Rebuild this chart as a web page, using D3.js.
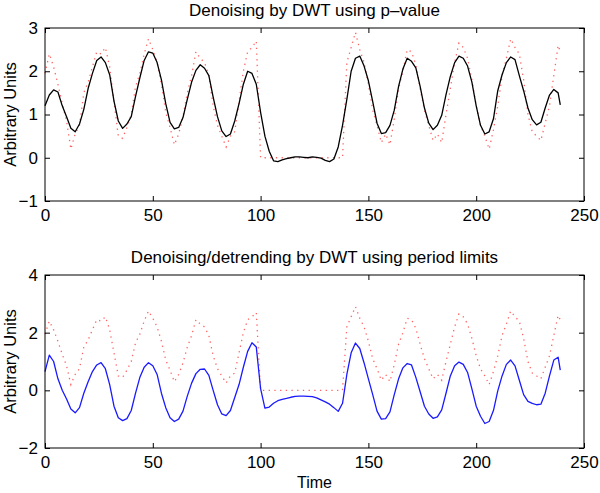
<!DOCTYPE html>
<html>
<head>
<meta charset="utf-8">
<script src="https://cdn.jsdelivr.net/npm/d3@7"></script>
<style>
  body { margin: 0; background: #fff; }
  svg text { font-family: "Liberation Sans", Arial, Helvetica, sans-serif; fill: #000; }
</style>
</head>
<body>
<div id="chart"></div>
<script>
// time axis (hours), sampled every 2 units
const time = [0, 2, 4, 6, 8, 10, 12, 14, 16, 18, 20, 22, 24, 26, 28, 30, 32, 34, 36, 38,
  40, 42, 44, 46, 48, 50, 52, 54, 56, 58, 60, 62, 64, 66, 68, 70, 72, 74, 76, 78,
  80, 82, 84, 86, 88, 90, 92, 94, 96, 98, 100, 102, 104, 106, 108, 110, 112, 114, 116, 118,
  120, 122, 124, 126, 128, 130, 132, 134, 136, 138, 140, 142, 144, 146, 148, 150, 152, 154, 156, 158,
  160, 162, 164, 166, 168, 170, 172, 174, 176, 178, 180, 182, 184, 186, 188, 190, 192, 194, 196, 198,
  200, 202, 204, 206, 208, 210, 212, 214, 216, 218, 220, 222, 224, 226, 228, 230, 232, 234, 236, 238, 239];

// raw signal (red dotted, same in both panels)
const raw = [1.95, 2.4, 2.1, 1.7, 1.25, 0.85, 0.2, 0.55, 0.75, 1.5, 1.75, 2.1, 2.45, 2.4, 2.55, 2.1, 1.3, 0.5, 0.45, 0.7,
  1.0, 1.65, 1.95, 2.4, 2.75, 2.5, 2.2, 1.7, 1.05, 0.7, 0.3, 0.55, 0.95, 1.5, 1.9, 2.45, 2.3, 2.2, 1.9, 1.2,
  0.75, 0.5, 0.25, 0.5, 0.6, 1.3, 2.0, 2.45, 2.55, 2.7, 0, 0, 0, 0, 0, 0, 0, 0, 0, 0,
  0, 0, 0, 0, 0, 0, 0, 0, 0, 0, 2.2, 2.55, 2.9, 2.5, 2.2, 1.7, 1.1, 0.75, 0.35, 0.55,
  0.3, 0.9, 1.6, 2.0, 2.5, 2.45, 2.15, 1.6, 1.1, 0.75, 0.4, 0.55, 0.35, 1.0, 1.6, 2.2, 2.65, 2.55, 2.3, 1.8,
  1.2, 0.75, 0.5, 0.2, 0.65, 1.2, 1.9, 2.3, 2.75, 2.55, 2.4, 1.8, 1.0, 0.6, 0.5, 0.4, 0.8, 1.2, 1.9, 2.6, 2.45];

// DWT denoised with p-value (black)
const denoised = [1.2, 1.45, 1.57, 1.52, 1.2, 0.95, 0.68, 0.6, 0.78, 1.12, 1.6, 1.95, 2.25, 2.33, 2.2, 1.92, 1.31, 0.85, 0.68, 0.78,
  0.95, 1.42, 1.85, 2.25, 2.45, 2.42, 2.2, 1.8, 1.25, 0.82, 0.67, 0.7, 0.93, 1.35, 1.75, 2.02, 2.15, 2.07, 1.9, 1.4,
  0.95, 0.62, 0.49, 0.55, 0.85, 1.25, 1.7, 2.0, 1.95, 1.7, 1.05, 0.5, 0.15, -0.07, -0.09, -0.05, -0.02, 0.0, 0.02, 0.02,
  0.01, 0.0, 0.02, 0.01, -0.01, -0.06, -0.09, -0.03, 0.25, 0.75, 1.35, 2.0, 2.3, 2.35, 2.12, 1.78, 1.3, 0.8, 0.56, 0.58,
  0.75, 1.1, 1.65, 2.05, 2.3, 2.23, 2.08, 1.65, 1.15, 0.8, 0.65, 0.75, 0.98, 1.46, 1.88, 2.2, 2.35, 2.3, 2.12, 1.75,
  1.2, 0.75, 0.55, 0.6, 0.9, 1.55, 1.92, 2.2, 2.33, 2.27, 1.9, 1.55, 1.15, 0.88, 0.76, 0.82, 1.15, 1.45, 1.58, 1.5, 1.22];

// DWT denoised + detrended using period limits (blue)
const detrended = [0.65, 1.22, 1.0, 0.4, 0.0, -0.3, -0.65, -0.78, -0.6, -0.1, 0.3, 0.65, 0.88, 0.96, 0.75, 0.2, -0.55, -0.95, -1.05, -0.98,
  -0.7, -0.1, 0.45, 0.8, 0.96, 0.85, 0.55, -0.1, -0.6, -0.95, -1.08, -1.0, -0.72, -0.2, 0.25, 0.58, 0.73, 0.74, 0.52, 0.0,
  -0.5, -0.82, -0.88, -0.7, -0.25, 0.2, 0.8, 1.35, 1.65, 1.5, 0.06, -0.62, -0.58, -0.45, -0.36, -0.31, -0.28, -0.24, -0.21, -0.2,
  -0.2, -0.21, -0.22, -0.26, -0.33, -0.4, -0.48, -0.6, -0.73, -0.45, 0.55, 1.3, 1.64, 1.45, 0.95, 0.4, -0.15, -0.72, -1.0, -0.98,
  -0.75, -0.15, 0.4, 0.78, 0.93, 0.88, 0.45, -0.05, -0.55, -0.82, -0.97, -0.92, -0.68, -0.1, 0.5, 0.85, 0.98, 0.9, 0.62, 0.05,
  -0.55, -0.9, -1.15, -1.08, -0.7, -0.02, 0.5, 0.9, 1.05, 0.85, 0.35, -0.15, -0.38, -0.45, -0.5, -0.48, -0.1, 0.5, 1.05, 1.15, 0.7];

const xTicks = [0, 50, 100, 150, 200, 250];
const yTicksTop = [-1, 0, 1, 2, 3];
const yTicksBottom = [-2, 0, 2, 4];

const width = 600, height = 493;
const left = 45, right = 584;

const svg = d3.select("#chart").append("svg")
  .attr("width", width)
  .attr("height", height);

const x = d3.scaleLinear().domain([0, 250]).range([left, right]);

function drawPanel(p) {
  const { top, bottom, yDomain, yTicks, title, lineColor, lineData, xLabel } = p;
  const y = d3.scaleLinear().domain(yDomain).range([bottom, top]);
  const g = svg.append("g");

  const line = d3.line()
    .x((d, i) => x(time[i]))
    .y(d => y(d));

  // raw data, dotted
  g.append("path")
    .attr("d", line(raw))
    .attr("fill", "none")
    .attr("stroke", "#ff2020")
    .attr("stroke-width", 1.3)
    .attr("stroke-opacity", 0.7)
    .attr("stroke-dasharray", "1.3 4.4");

  g.append("path")
    .attr("d", line(lineData))
    .attr("fill", "none")
    .attr("stroke", lineColor)
    .attr("stroke-width", 1.3)
    .attr("stroke-linejoin", "round");

  const fmt = d3.format("d");

  // axes with inward ticks on all sides
  g.append("g")
    .attr("transform", `translate(0,${bottom})`)
    .call(d3.axisBottom(x).tickValues(xTicks).tickFormat(fmt).tickSizeInner(-5).tickSizeOuter(0).tickPadding(8));
  g.append("g")
    .attr("transform", `translate(0,${top})`)
    .call(d3.axisTop(x).tickValues(xTicks).tickFormat("").tickSizeInner(-5).tickSizeOuter(0));
  g.append("g")
    .attr("transform", `translate(${left},0)`)
    .call(d3.axisLeft(y).tickValues(yTicks).tickFormat(fmt).tickSizeInner(-5).tickSizeOuter(0).tickPadding(7));
  g.append("g")
    .attr("transform", `translate(${right},0)`)
    .call(d3.axisRight(y).tickValues(yTicks).tickFormat("").tickSizeInner(-5).tickSizeOuter(0));

  g.selectAll(".domain").remove();
  g.selectAll(".tick line").attr("stroke", "#000");
  g.selectAll(".tick text")
    .style("font-size", "17px")
    .attr("fill", "#000");

  g.append("rect")
    .attr("x", left).attr("y", top)
    .attr("width", right - left).attr("height", bottom - top)
    .attr("fill", "none")
    .attr("stroke", "#000")
    .attr("stroke-width", 1);

  g.append("text")
    .attr("x", (left + right) / 2)
    .attr("y", top - 12)
    .attr("text-anchor", "middle")
    .style("font-size", "17px")
    .text(title);

  g.append("text")
    .attr("transform", `translate(16,${(top + bottom) / 2}) rotate(-90)`)
    .attr("text-anchor", "middle")
    .style("font-size", "16.5px")
    .text("Arbitrary Units");

  if (xLabel) {
    g.append("text")
      .attr("x", (left + right) / 2)
      .attr("y", bottom + 40)
      .attr("text-anchor", "middle")
      .style("font-size", "16px")
      .text(xLabel);
  }
}

drawPanel({
  top: 28, bottom: 201, yDomain: [-1, 3], yTicks: yTicksTop,
  title: "Denoising by DWT using p\u2013value",
  lineColor: "#000", lineData: denoised
});

drawPanel({
  top: 275, bottom: 448, yDomain: [-2, 4], yTicks: yTicksBottom,
  title: "Denoising/detrending by DWT using period limits",
  lineColor: "#1a1aff", lineData: detrended, xLabel: "Time"
});
</script>
</body>
</html>
